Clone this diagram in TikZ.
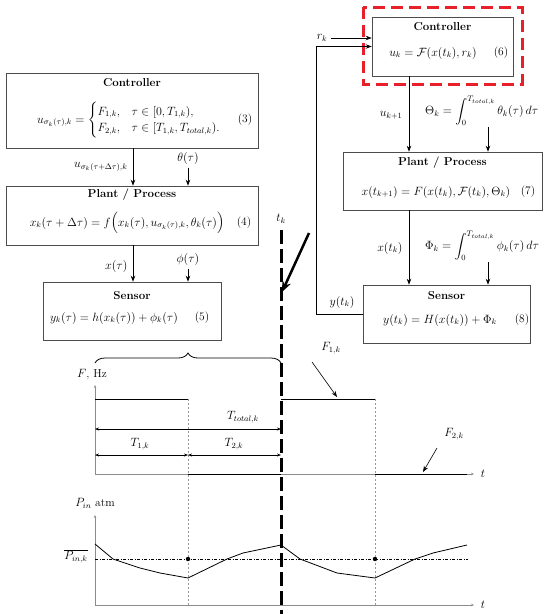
\documentclass[tikz,border=0pt]{standalone}
\usepackage{amsmath}
\usetikzlibrary{arrows.meta,decorations.pathreplacing,calc}

\definecolor{hired}{RGB}{232,32,42}

\tikzset{
  every node/.append style={font=\fontsize{11.5}{13.5}\selectfont},
  blk/.style={draw=black!70, line width=0.6pt, inner sep=0pt},
  ttl/.style={font=\fontsize{11.5}{13.5}\selectfont\bfseries, anchor=north, inner sep=1pt},
  flow/.style={-{Stealth[length=6pt,width=4.5pt]}, line width=0.8pt},
  axis/.style={draw=black!45, line width=0.5pt, -{Stealth[length=3pt,width=2.5pt]}},
  dim/.style={{Stealth[length=4pt,width=3pt]}-{Stealth[length=4pt,width=3pt]}, line width=0.5pt},
  grid/.style={draw=black!40, line width=0.5pt, dash pattern=on 2pt off 2pt},
  sig/.style={line width=1pt},
}

\begin{document}
\begin{tikzpicture}[x=1pt, y=-1pt]
  \useasboundingbox (0,0) rectangle (550,614);

  %%%%% LEFT LOOP %%%%%
  \coordinate (colL) at (133,0);
  \node[blk, minimum width=252pt, minimum height=75pt] (ctrlL) at (132,110.5) {};
  \node[ttl] at (132,77) {Controller};
  \node at (129,120) {$u_{\sigma_k(\tau),k} = \begin{cases} F_{1,k}, & \tau\in[0,T_{1,k}),\\ F_{2,k}, & \tau\in[T_{1,k},T_{total,k}).\end{cases}$};
  \node at (245,120) {(3)};

  \node[blk, minimum width=252pt, minimum height=59pt] (plantL) at (132,215.5) {};
  \node[ttl] at (132,188) {Plant / Process};
  \node[inner sep=1pt] at (127,223) {$x_k(\tau+\Delta\tau) = f\Big(x_k(\tau), u_{\sigma_k(\tau),k}, \theta_k(\tau)\Big)$};
  \node at (244,223) {(4)};

  \node[blk, minimum width=178pt, minimum height=58pt] (sensL) at (132,311) {};
  \node[ttl] at (132,290) {Sensor};
  \node at (114,318) {$y_k(\tau) = h(x_k(\tau)) + \phi_k(\tau)$};
  \node at (202,318) {(5)};

  \draw[flow] (ctrlL.south -| colL) -- (plantL.north -| colL);
  \node[anchor=east] (uL) at (131,167) {$u_{\sigma_k(\tau+\Delta\tau),k}$};
  \node (thetaL) at (188,158) {$\theta(\tau)$};
  \draw[flow] (thetaL.south) -- (thetaL.south |- plantL.north);

  \draw[flow] (plantL.south -| colL) -- (sensL.north -| colL);
  \node[anchor=east] (xL) at (131,266) {$x(\tau)$};
  \node (phiL) at (188,259) {$\phi(\tau)$};
  \draw[flow] (phiL.south) -- (phiL.south |- sensL.north);

  %%%%% RIGHT LOOP %%%%%
  \coordinate (colR) at (409,0);
  \coordinate (colT) at (488,0);
  \coordinate (fbx) at (316,0);
  \draw[hired, line width=3pt, dash pattern=on 12pt off 6pt] (363,7) rectangle (522,84);
  \node[blk, fill=white, minimum width=141pt, minimum height=59pt] (ctrlR) at (442.5,46.5) {};
  \node[ttl] at (442.5,21) {Controller};
  \node at (433,53) {$u_k = \mathcal{F}(x(t_k), r_k)$};
  \node at (501,53) {(6)};

  \node[blk, minimum width=199pt, minimum height=58pt] (plantR) at (442.5,181) {};
  \node[ttl] at (442.5,156) {Plant / Process};
  \node at (436,192) {$x(t_{k+1}) = F(x(t_k), \mathcal{F}(t_k), \Theta_k)$};
  \node at (528,192) {(7)};

  \node[blk, minimum width=167pt, minimum height=58pt] (sensR) at (446.5,314) {};
  \node[ttl] at (446.5,290) {Sensor};
  \node at (440,320) {$y(t_k) = H(x(t_k)) + \Phi_k$};
  \node at (522,320) {(8)};

  \node (rk) at (322,38) {$r_k$};
  \draw[flow] (rk.east) -- (rk.east -| ctrlR.west);
  \draw[flow] (sensR.west) -| (fbx |- ctrlR.west) -- (ctrlR.west);
  \node (yR) at (342,302) {$y(t_k)$};

  \draw[flow] (ctrlR.south -| colR) -- (plantR.north -| colR);
  \node[anchor=east] (uR) at (406,115) {$u_{k+1}$};
  \node[anchor=west, inner sep=1pt] (thetaR) at (424,111) {$\Theta_k = \displaystyle\int_0^{T_{total,k}} \theta_k(\tau)\,d\tau$};
  \draw[flow] (thetaR.south -| colT) -- (plantR.north -| colT);

  \draw[flow] (plantR.south -| colR) -- (sensR.north -| colR);
  \node[anchor=east] (xR) at (406,248) {$x(t_k)$};
  \node[anchor=west, inner sep=1pt] (phiR) at (424,246) {$\Phi_k = \displaystyle\int_0^{T_{total,k}} \phi_k(\tau)\,d\tau$};
  \draw[flow] (phiR.south -| colT) -- (sensR.north -| colT);

  %%%%% TIME CHARTS %%%%%
  \coordinate (o1) at (95,474);
  \coordinate (o2) at (95,605);
  \coordinate (t1) at (188,0);
  \coordinate (tk) at (281,0);
  \coordinate (t2) at (375,0);

  % frequency
  \draw[axis] (o1) -- (95,385);
  \draw[axis] (o1) -- (474,474);
  \node (tax1) at (483,474) {$t$};
  \node (fax) at (92,375) {$F$, Hz};
  \draw[grid] (t1 |- 0,399) -- (t1 |- o2);
  \draw[grid] (t2 |- 0,399) -- (t2 |- o2);
  \draw[sig] (95,399) -- (188,399);
  \draw[sig] (281,399) -- (375,399);
  \draw[sig] (188,474) -- (281,474);
  \draw[sig] (375,474) -- (467,474);
  \draw[dim] (95,429) -- (281,429);
  \node (ttot) at (243,417) {$T_{total,k}$};
  \draw[dim] (95,455) -- (188,455);
  \draw[dim] (188,455) -- (281,455);
  \node (tone) at (140,444) {$T_{1,k}$};
  \node (ttwo) at (234,444) {$T_{2,k}$};
  \node (fone) at (331,348) {$F_{1,k}$};
  \draw[flow, line width=0.6pt] (312,362) -- (337,397);
  \node (ftwo) at (454,434) {$F_{2,k}$};
  \draw[flow, line width=0.6pt] (437,448) -- (423,472);

  % brace over one period
  \draw[line width=0.8pt, decorate, decoration={brace, amplitude=10pt}] (95,363) -- (281,363);

  % pressure
  \draw[axis] (o2) -- (95,515);
  \draw[axis] (o2) -- (474,605);
  \node (tax2) at (483,605) {$t$};
  \node (pax) at (95,503) {$P_{in}$ atm};
  \node (pmean) at (76,556) {$\overline{P_{in,k}}$};
  \draw[line width=0.6pt, dash pattern=on 3pt off 1.5pt on 1pt off 1.5pt] (95,559) -- (468,559);
  \fill (188,559) circle (2.2);
  \fill (375,559) circle (2.2);
  \draw[line width=0.8pt] (95,544) -- (113,559) -- (140,568) -- (160,573) -- (188,578)
    -- (227,559) -- (243,553) -- (281,545)
    -- (300,559) -- (337,573) -- (375,578)
    -- (415,559) -- (433,553) -- (467,545);

  %%%%% SAMPLING INSTANT %%%%%
  \draw[line width=3pt, dash pattern=on 14pt off 5pt] (281,230) -- (281,614);
  \node (tkl) at (281,219) {$t_k$};
  \draw[line width=2.5pt, -{Stealth[length=11pt,width=9pt]}] (309,233) -- (282,292);
\end{tikzpicture}
\end{document}
